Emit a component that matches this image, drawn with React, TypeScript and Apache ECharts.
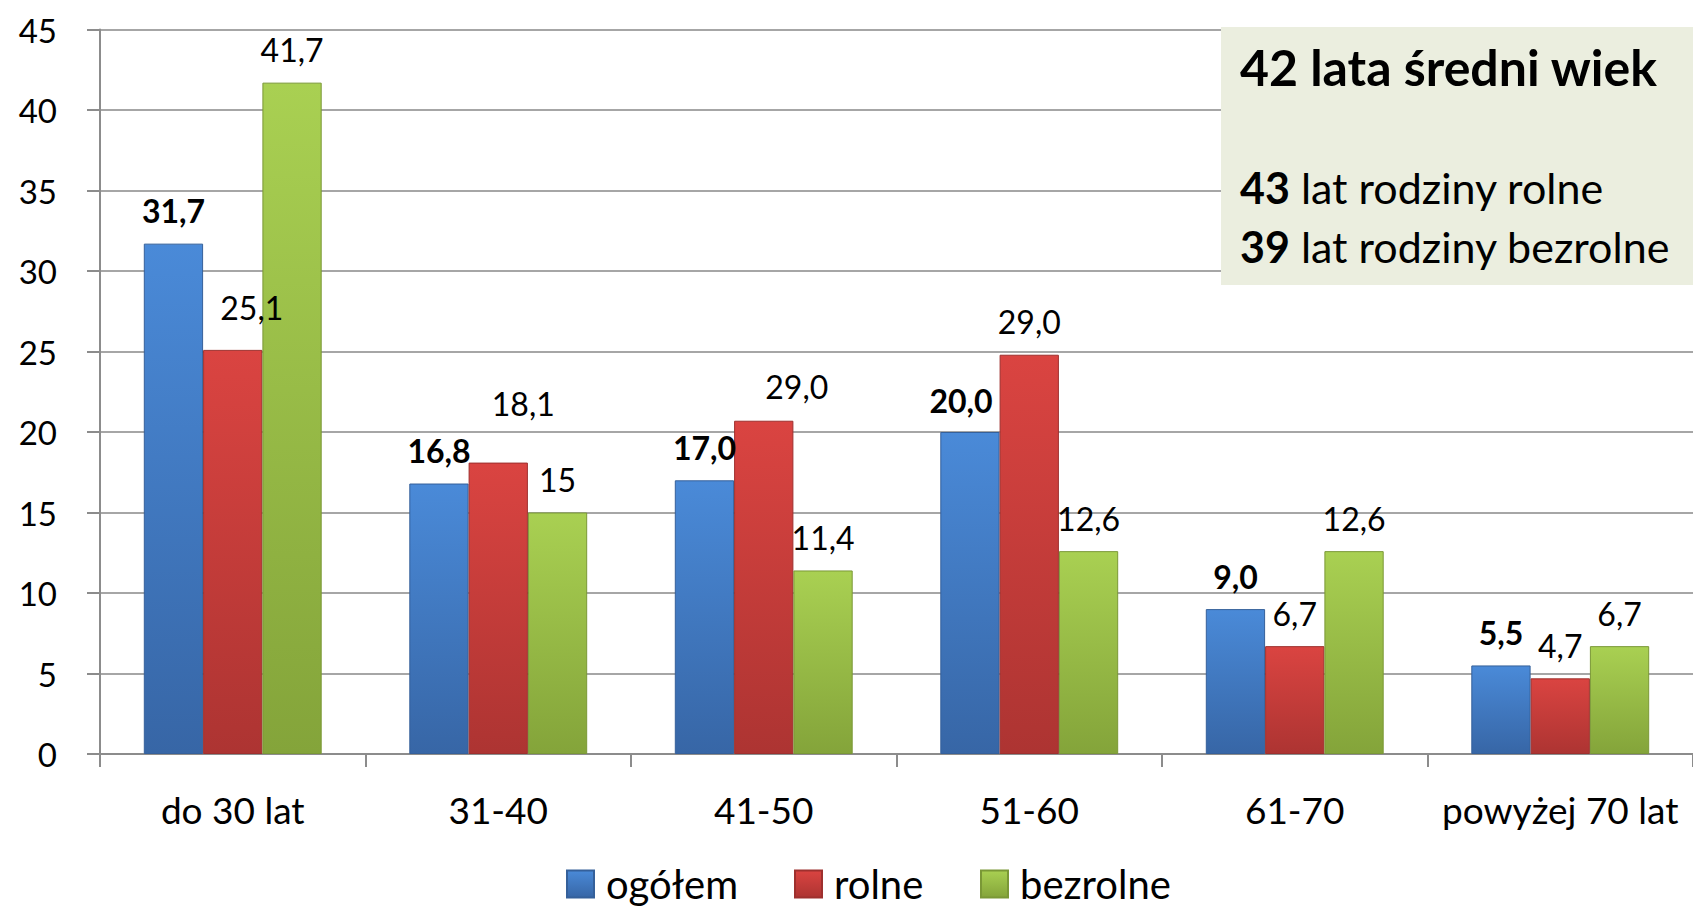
import React, { useEffect, useRef } from "react";
import * as echarts from "echarts";

const categories = ["do 30 lat", "31-40", "41-50", "51-60", "61-70", "powyżej 70 lat"];
const seriesNames = ["ogółem", "rolne", "bezrolne"];
const ogolem = [31.7, 16.8, 17.0, 20.0, 9.0, 5.5];
const rolne = [25.1, 18.1, 20.7, 24.8, 6.7, 4.7];
const bezrolne = [41.7, 15.0, 11.4, 12.6, 12.6, 6.7];
const ogolemLabels = ["31,7", "16,8", "17,0", "20,0", "9,0", "5,5"];
const rolneLabels = ["25,1", "18,1", "29,0", "29,0", "6,7", "4,7"];
const bezrolneLabels = ["41,7", "15", "11,4", "12,6", "12,6", "6,7"];
const yTicks = { min: 0, max: 45, interval: 5 };
const boxTitle = "42 lata średni wiek";
const boxLines = [
  { num: "43", text: " lat rodziny rolne" },
  { num: "39", text: " lat rodziny bezrolne" },
];

// label nudges (layout only)
const ogolemOffsets = [[0, 0], [0, 0], [0, 0], [-9, 1], [0, 0], [0, 0]];
const rolneOffsets = [[19, -9], [25, -26], [33, -1], [0, 0], [0, 0], [0, 0]];
const bezrolneOffsets = [[0, 0], [0, 0], [0, 0], [0, 0], [0, 0], [0, 0]];
const legendLefts = [561, 789, 975];

const FONT = "Lato";

function grad(top: string, bottom: string) {
  return new echarts.graphic.LinearGradient(0, 0, 0, 1, [
    { offset: 0, color: top },
    { offset: 1, color: bottom },
  ]);
}

function makeSeries(
  name: string,
  values: number[],
  labels: string[],
  offsets: number[][],
  top: string,
  bottom: string,
  border: string,
  bold: boolean
) {
  return {
    name,
    type: "bar",
    barGap: "0%",
    barCategoryGap: "33%",
    itemStyle: { color: grad(top, bottom), borderColor: border, borderWidth: 1 },
    data: values.map((v, i) => ({
      value: v,
      label: {
        show: true,
        position: "top",
        distance: 17,
        offset: offsets[i],
        formatter: () => labels[i],
        fontFamily: FONT,
        fontSize: 32,
        lineHeight: 32,
        fontWeight: bold ? "bold" : "normal",
        color: "#000",
      },
    })),
  };
}

export default function App() {
  const ref = useRef<HTMLDivElement>(null);
  useEffect(() => {
    if (!ref.current) return;
    const chart = echarts.init(ref.current, null, { renderer: "svg" });
    chart.setOption({
      animation: false,
      backgroundColor: "#ffffff",
      grid: { left: 100, top: 29.5, width: 1598, height: 724.5, containLabel: false },
      legend: seriesNames.map((n, i) => ({
        data: [n],
        icon: "rect",
        left: legendLefts[i],
        top: 858,
        itemWidth: 27,
        itemHeight: 27,
        textStyle: {
          fontFamily: FONT,
          fontSize: 40,
          lineHeight: 42,
          color: "#000",
          padding: [0, 0, 0, 7],
        },
      })),
      xAxis: {
        type: "category",
        data: categories,
        axisLine: { lineStyle: { color: "#8c8c8c", width: 2 } },
        axisTick: { show: true, length: 13, lineStyle: { color: "#8c8c8c", width: 2 } },
        axisLabel: {
          fontFamily: FONT,
          fontSize: 37,
          lineHeight: 38,
          color: "#000",
          margin: 36,
          interval: 0,
        },
      },
      yAxis: {
        type: "value",
        min: yTicks.min,
        max: yTicks.max,
        interval: yTicks.interval,
        axisLine: { show: true, lineStyle: { color: "#8c8c8c", width: 2 } },
        axisTick: { show: true, length: 13, lineStyle: { color: "#8c8c8c", width: 2 } },
        splitLine: { show: true, lineStyle: { color: "#a6a6a6", width: 2 } },
        axisLabel: {
          fontFamily: FONT,
          fontSize: 33,
          color: "#000",
          margin: 43,
        },
      },
      series: [
        makeSeries("ogółem", ogolem, ogolemLabels, ogolemOffsets, "#4a8ad8", "#3766a6", "#35609a", true),
        makeSeries("rolne", rolne, rolneLabels, rolneOffsets, "#da4441", "#ad3432", "#9e302e", false),
        makeSeries("bezrolne", bezrolne, bezrolneLabels, bezrolneOffsets, "#a9d052", "#84a43a", "#7a9836", false),
      ],
      graphic: [
        {
          type: "rect",
          z: 100,
          shape: { x: 1221, y: 27, width: 480, height: 258 },
          style: { fill: "#ebeedf" },
        },
        {
          type: "text",
          z: 101,
          x: 1240,
          y: 67,
          style: {
            text: boxTitle,
            fontFamily: FONT,
            fontSize: 50,
            fontWeight: "bold",
            fill: "#000",
            verticalAlign: "middle",
          },
        },
        ...boxLines.map((l, i) => ({
          type: "text",
          z: 101,
          x: 1240,
          y: 187 + i * 59,
          style: {
            text: `{b|${l.num}}{n|${l.text}}`,
            verticalAlign: "middle",
            rich: {
              b: { fontFamily: FONT, fontSize: 43, fontWeight: "bold", fill: "#000" },
              n: { fontFamily: FONT, fontSize: 43, fill: "#000" },
            },
          },
        })),
      ],
    });
    return () => chart.dispose();
  }, []);
  return (
    <div
      ref={ref}
      style={{ position: "fixed", left: 0, top: 0, width: 1693, height: 909 }}
    />
  );
}
